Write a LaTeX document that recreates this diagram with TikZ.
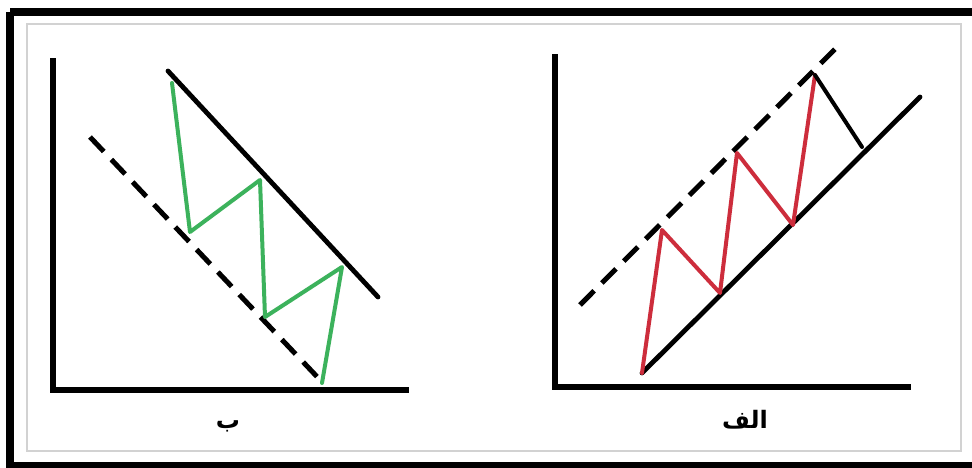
\documentclass[tikz,border=0pt]{standalone}
\usepackage{fontspec}
\newfontfamily\arabicfont[Script=Arabic]{DejaVu Sans}
\TeXXeTstate=1
\begin{document}
\begin{tikzpicture}[x=1pt,y=-1pt,
  axis/.style={line width=5.5pt,line cap=rect},
  trend/.style={line width=4.8pt,line cap=round},
  dtrend/.style={line width=5pt,dash pattern=on 20pt off 11pt},
  zig/.style={line width=4pt,line join=round,line cap=round},
  lbl/.style={font=\arabicfont\bfseries\fontsize{24}{28}\selectfont}]
\definecolor{zgreen}{RGB}{60,178,92}
\definecolor{zred}{RGB}{205,45,60}
\definecolor{framegray}{RGB}{210,210,210}
\useasboundingbox (0,0) rectangle (972,468);
\fill[white] (0,0) rectangle (972,468);
% outer black frame (right side cut off)
\draw[line width=8pt] (10,12) -- (10,466) -- (990,466);
\draw[line width=8pt] (10,12) -- (990,12);
% inner gray frame
\draw[framegray,line width=2pt] (27,24) rectangle (961,451);

% ---- left chart (b) ----
\coordinate (bY) at (53,61);
\coordinate (bO) at (53,390);
\coordinate (bX) at (406,390);
\draw[axis] (bY) -- (bO) -- (bX);
\coordinate (bs1) at (168,71);
\coordinate (bs2) at (378,297);
\draw[trend] (bs1) -- (bs2);
\coordinate (bd1) at (90,137);
\coordinate (bd2) at (323,383);
\draw[dtrend] (bd1) -- (bd2);
\coordinate (g1) at (172,83);
\coordinate (g2) at (190,232);
\coordinate (g3) at (260,180);
\coordinate (g4) at (265,317);
\coordinate (g5) at (342,267);
\coordinate (g6) at (322,383);
\draw[zig,zgreen] (g1) -- (g2) -- (g3) -- (g4) -- (g5) -- (g6);
\node[lbl] (lb) at (228,426) {\beginR ب\endR};

% ---- right chart (alef) ----
\coordinate (aY) at (555,57);
\coordinate (aO) at (555,387);
\coordinate (aX) at (908,387);
\draw[axis] (aY) -- (aO) -- (aX);
\coordinate (as1) at (642,373);
\coordinate (as2) at (920,97);
\draw[trend] (as1) -- (as2);
\coordinate (ad1) at (580,305);
\coordinate (ad2) at (842,42);
\draw[dtrend] (ad1) -- (ad2);
\coordinate (r1) at (642,373);
\coordinate (r2) at (662,230);
\coordinate (r3) at (720,293);
\coordinate (r4) at (737,153);
\coordinate (r5) at (793,225);
\coordinate (r6) at (815,75);
\coordinate (r7) at (862,147);
\draw[zig,zred] (r1) -- (r2) -- (r3) -- (r4) -- (r5) -- (r6);
\draw[zig,black] (r6) -- (r7);
\node[lbl] (la) at (745,420) {\beginR الف\endR};
\end{tikzpicture}
\end{document}
